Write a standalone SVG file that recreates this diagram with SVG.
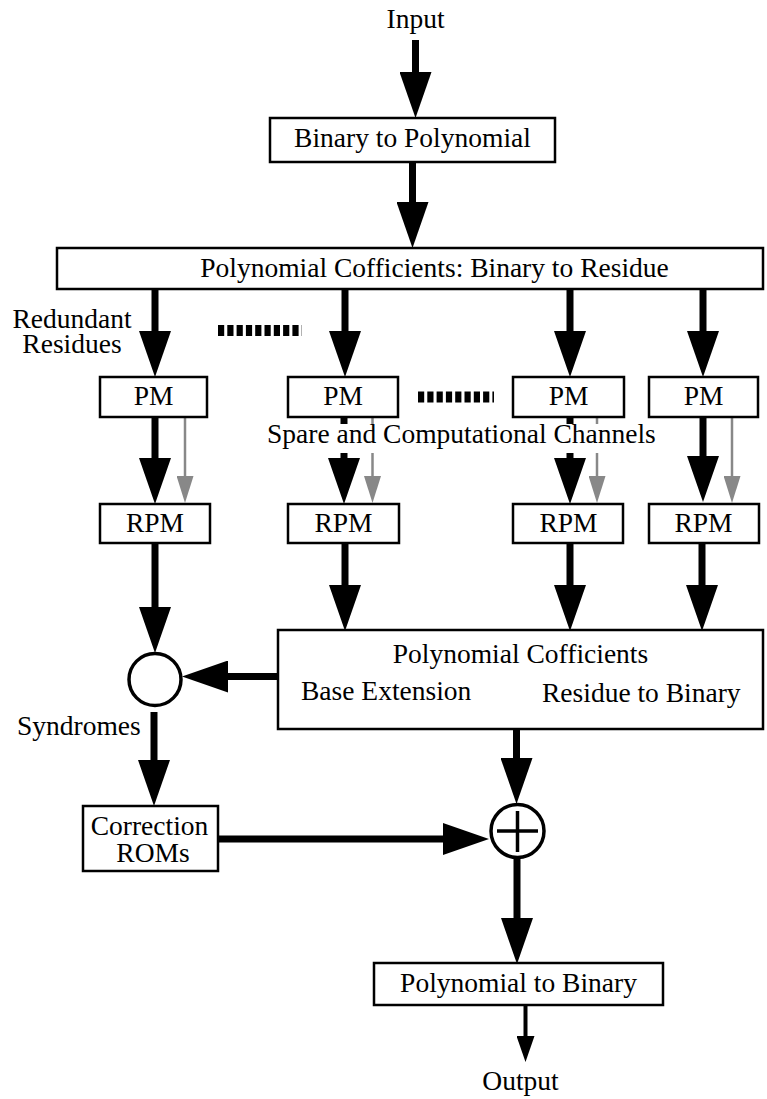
<svg xmlns="http://www.w3.org/2000/svg" width="767" height="1099" viewBox="0 0 767 1099">
<style>
.box{fill:#fff;stroke:#000;stroke-width:2.5}
.t{font-family:"Liberation Serif","Times New Roman",serif;font-size:27.5px;fill:#000}
.m{text-anchor:middle}
.c{stroke:#000;stroke-width:7;fill:none}
.g{stroke:#888;stroke-width:2.5;fill:none}
.th{stroke:#000;stroke-width:4;fill:none}
.dash{stroke:#000;stroke-width:11;stroke-dasharray:6.2 3.1;fill:none}
</style>
<defs>
<marker id="ah" markerUnits="userSpaceOnUse" markerWidth="46" markerHeight="32" viewBox="0 0 46 32" refX="0" refY="16" orient="auto"><path d="M0,0 L46,16 L0,32 z" fill="#000"/></marker>
<marker id="ag" markerUnits="userSpaceOnUse" markerWidth="27" markerHeight="17" viewBox="0 0 27 17" refX="0" refY="8.5" orient="auto"><path d="M0,0 L27,8.5 L0,17 z" fill="#888"/></marker>
<marker id="at" markerUnits="userSpaceOnUse" markerWidth="26" markerHeight="18" viewBox="0 0 26 18" refX="0" refY="9" orient="auto"><path d="M0,0 L26,9 L0,18 z" fill="#000"/></marker>
</defs>

<g id="connectors">
<line class="c" x1="415.5" y1="40" x2="415.5" y2="72" marker-end="url(#ah)"/>
<line class="c" x1="412.5" y1="162" x2="412.5" y2="202" marker-end="url(#ah)"/>
<line class="c" x1="155" y1="289" x2="155" y2="331" marker-end="url(#ah)"/>
<line class="c" x1="345" y1="289" x2="345" y2="331" marker-end="url(#ah)"/>
<line class="c" x1="570" y1="289" x2="570" y2="331" marker-end="url(#ah)"/>
<line class="c" x1="703" y1="289" x2="703" y2="331" marker-end="url(#ah)"/>
<line class="c" x1="155" y1="417" x2="155" y2="458" marker-end="url(#ah)"/>
<line class="c" x1="344" y1="417" x2="344" y2="458" marker-end="url(#ah)"/>
<line class="c" x1="570" y1="417" x2="570" y2="458" marker-end="url(#ah)"/>
<line class="c" x1="703" y1="417" x2="703" y2="456" marker-end="url(#ah)"/>
<line class="g" x1="185" y1="417" x2="185" y2="476" marker-end="url(#ag)"/>
<line class="g" x1="372.5" y1="417" x2="372.5" y2="476" marker-end="url(#ag)"/>
<line class="g" x1="597" y1="417" x2="597" y2="476" marker-end="url(#ag)"/>
<line class="g" x1="732" y1="417" x2="732" y2="476" marker-end="url(#ag)"/>
<line class="c" x1="155" y1="543" x2="155" y2="607" marker-end="url(#ah)"/>
<line class="c" x1="345" y1="543" x2="345" y2="585" marker-end="url(#ah)"/>
<line class="c" x1="570" y1="543" x2="570" y2="585" marker-end="url(#ah)"/>
<line class="c" x1="702" y1="543" x2="702" y2="585" marker-end="url(#ah)"/>
<line class="c" x1="278" y1="676.5" x2="228" y2="676.5" marker-end="url(#ah)"/>
<line class="c" x1="154" y1="712" x2="154" y2="760" marker-end="url(#ah)"/>
<line class="c" x1="218" y1="839" x2="443" y2="839" marker-end="url(#ah)"/>
<line class="c" x1="516.5" y1="729" x2="516.5" y2="758" marker-end="url(#ah)"/>
<line class="c" x1="517" y1="859" x2="517" y2="918" marker-end="url(#ah)"/>
<line class="th" x1="525.5" y1="1005" x2="525.5" y2="1036" marker-end="url(#at)"/>
<line class="dash" x1="218" y1="330.5" x2="302" y2="330.5"/>
<line class="dash" x1="418" y1="397" x2="494" y2="397"/>
</g>

<g id="input"><text class="t m" x="415.5" y="28">Input</text></g>
<g id="bin2poly"><rect class="box" x="270" y="118" width="285" height="44"/><text class="t m" x="412.5" y="147">Binary to Polynomial</text></g>
<g id="bin2res"><rect class="box" x="57" y="248" width="706" height="41"/><text class="t m" x="434.5" y="277">Polynomial Cofficients: Binary to Residue</text></g>
<g id="redundant"><text class="t m" x="72" y="328">Redundant</text><text class="t m" x="72" y="353">Residues</text></g>

<g id="pm1"><rect class="box" x="100" y="377" width="107" height="40"/><text class="t m" x="153.5" y="405">PM</text></g>
<g id="pm2"><rect class="box" x="288" y="377" width="110" height="40"/><text class="t m" x="343" y="405">PM</text></g>
<g id="pm3"><rect class="box" x="513" y="377" width="111" height="40"/><text class="t m" x="568.5" y="405">PM</text></g>
<g id="pm4"><rect class="box" x="649" y="377" width="109" height="40"/><text class="t m" x="703.5" y="405">PM</text></g>

<g id="spare"><rect x="264" y="424" width="397" height="29" fill="#fff"/><text class="t" x="267" y="443">Spare and Computational Channels</text></g>

<g id="rpm1"><rect class="box" x="100" y="504" width="110" height="39"/><text class="t m" x="155" y="532">RPM</text></g>
<g id="rpm2"><rect class="box" x="288" y="504" width="111" height="39"/><text class="t m" x="343.5" y="532">RPM</text></g>
<g id="rpm3"><rect class="box" x="513" y="504" width="110" height="39"/><text class="t m" x="568.5" y="532">RPM</text></g>
<g id="rpm4"><rect class="box" x="649" y="504" width="110" height="39"/><text class="t m" x="703.5" y="532">RPM</text></g>

<g id="syndromeCircle"><circle cx="155" cy="679.5" r="26" fill="#fff" stroke="#000" stroke-width="3.5"/></g>
<g id="syndromes"><text class="t" x="17" y="735">Syndromes</text></g>

<g id="res2bin"><rect class="box" x="278" y="630" width="485" height="99"/>
<text class="t m" x="520.5" y="663">Polynomial Cofficients</text>
<text class="t" x="301" y="700">Base Extension</text>
<text class="t" x="542" y="702">Residue to Binary</text></g>

<g id="correction"><rect class="box" x="83" y="806" width="135" height="65"/><text class="t m" x="149.5" y="835">Correction</text><text class="t m" x="153" y="862">ROMs</text></g>

<g id="adder"><circle cx="517.5" cy="831" r="26.5" fill="#fff" stroke="#000" stroke-width="3.5"/>
<line x1="497" y1="831" x2="538" y2="831" stroke="#000" stroke-width="3.5"/>
<line x1="517.5" y1="811" x2="517.5" y2="852" stroke="#000" stroke-width="3.5"/></g>

<g id="poly2bin"><rect class="box" x="374" y="963" width="289" height="42"/><text class="t m" x="518.5" y="992">Polynomial to Binary</text></g>
<g id="output"><text class="t m" x="520.5" y="1090">Output</text></g>
</svg>
